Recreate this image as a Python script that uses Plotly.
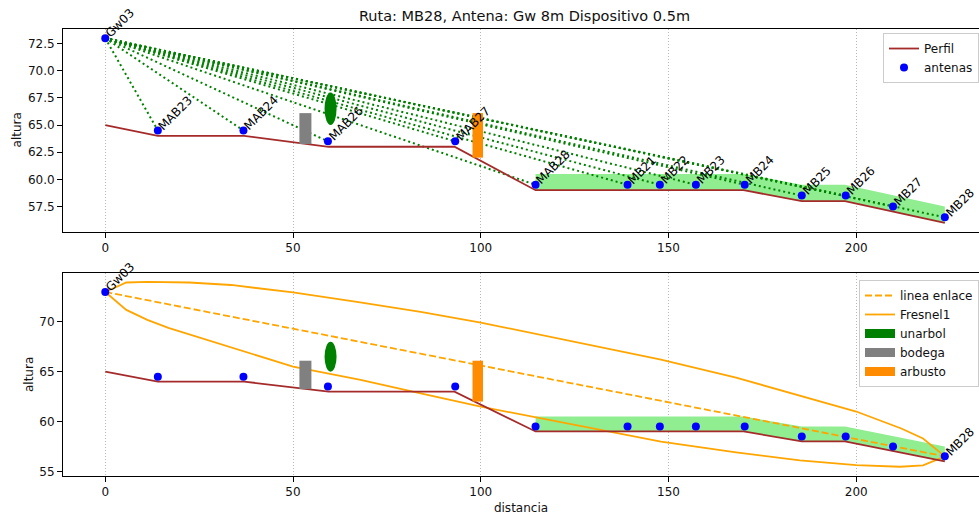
import plotly.graph_objects as go

# ---------------- data ----------------
# terrain profile (distancia, altura)
perfil_x = [0, 14, 37, 59.5, 93, 114.6, 170, 185.5, 197, 223.6]
perfil_y = [65, 64, 64, 63, 63, 59, 59, 58, 58, 56]

# antennas
ant_nombres = ["Gw03", "MAB23", "MAB24", "MAB26", "MAB27", "MAB28", "MB21",
               "MB22", "MB23", "MB24", "MB25", "MB26", "MB27", "MB28"]
ant_x = [0, 14, 36.8, 59.3, 93.2, 114.6, 139.1, 147.7, 157.3, 170.3,
         185.5, 197.2, 209.8, 223.6]
ant_y = [73, 64.5, 64.5, 63.5, 63.5, 59.5, 59.5, 59.5, 59.5, 59.5,
         58.5, 58.5, 57.5, 56.5]

# vegetation strip (green area)
veg_x = [114.6, 170, 185.5, 197, 223.6]
veg_base = [59, 59, 58, 58, 56]
veg_top = [60.5, 60.5, 59.5, 59.5, 57.5]

# obstacles
obs_nombres = ["unarbol", "bodega", "arbusto"]
obs_tipo = ["circle", "rect", "rect"]
obs_x0 = [58.4, 51.7, 97.8]
obs_x1 = [61.6, 54.9, 100.6]
obs_y0 = [65.0, 63.25, 62.0]
obs_y1 = [68.0, 66.1, 66.1]

# first Fresnel zone outline
fres_sup_x = [0, 5.6, 11.2, 16.8, 22.4, 33.5, 50, 67, 84, 100, 120, 148,
              168, 185, 200, 212, 217.8, 223.6]
fres_sup_y = [73, 73.95, 74.02, 74.02, 73.95, 73.7, 72.95, 72.0, 71.0,
              69.93, 68.4, 66.2, 64.4, 62.6, 61.0, 59.3, 58.3, 56.5]
fres_inf_x = [0, 5.6, 11.2, 16.8, 22.4, 33.5, 50, 68, 84, 100, 120, 148,
              168, 185, 200, 211.7, 217.8, 223.6]
fres_inf_y = [73, 71.2, 70.2, 69.4, 68.7, 67.4, 65.5, 64.17, 62.83, 61.49,
              60.0, 57.97, 56.9, 56.1, 55.63, 55.46, 55.6, 56.5]

x_ticks = [0, 50, 100, 150, 200]
y1_ticks = [57.5, 60.0, 62.5, 65.0, 67.5, 70.0, 72.5]
y2_ticks = [55, 60, 65, 70]

# ---------------- styles ----------------
FONT = "DejaVu Sans"
FS = 12
BROWN = "#a52a2a"
BLUE = "#0000ff"
GREEN = "#008000"
LGREEN = "#90ee90"
ORANGE = "#ffa500"
obs_colores = ["#008000", "#808080", "#ff8c00"]

fig = go.Figure()

for xa, ya, leg_main in (("x", "y", True), ("x2", "y2", False)):
    # vegetation area
    fig.add_trace(go.Scatter(x=veg_x, y=veg_base, mode="lines",
                             line=dict(width=0, color=LGREEN), hoverinfo="skip",
                             showlegend=False, xaxis=xa, yaxis=ya))
    fig.add_trace(go.Scatter(x=veg_x, y=veg_top, mode="lines", fill="tonexty",
                             fillcolor=LGREEN, line=dict(width=0, color=LGREEN),
                             hoverinfo="skip", showlegend=False, xaxis=xa, yaxis=ya))
    if leg_main:
        # dotted sight lines from gateway to every device
        lx, ly = [], []
        for xi, yi in zip(ant_x[1:], ant_y[1:]):
            lx += [ant_x[0], xi, None]
            ly += [ant_y[0], yi, None]
        fig.add_trace(go.Scatter(x=lx, y=ly, mode="lines",
                                 line=dict(color=GREEN, width=2, dash="2px,3px"),
                                 showlegend=False, xaxis=xa, yaxis=ya))
    else:
        fig.add_trace(go.Scatter(x=[ant_x[0], ant_x[-1]], y=[ant_y[0], ant_y[-1]],
                                 mode="lines", name="linea enlace",
                                 line=dict(color=ORANGE, width=1.8, dash="7px,3px"),
                                 legend="legend2", xaxis=xa, yaxis=ya))
        fig.add_trace(go.Scatter(x=fres_sup_x + fres_inf_x[::-1],
                                 y=fres_sup_y + fres_inf_y[::-1],
                                 mode="lines", name="Fresnel1",
                                 line=dict(color=ORANGE, width=1.8),
                                 legend="legend2", xaxis=xa, yaxis=ya))
        for nm, col in zip(obs_nombres, obs_colores):
            fig.add_trace(go.Scatter(x=[None], y=[None], mode="lines", name=nm,
                                     line=dict(color=col, width=9),
                                     legend="legend2", xaxis=xa, yaxis=ya))
    fig.add_trace(go.Scatter(x=perfil_x, y=perfil_y, mode="lines", name="Perfil",
                             line=dict(color=BROWN, width=1.8),
                             showlegend=leg_main, xaxis=xa, yaxis=ya))
    fig.add_trace(go.Scatter(x=ant_x, y=ant_y, mode="markers", name="antenas",
                             marker=dict(color=BLUE, size=8),
                             showlegend=leg_main, xaxis=xa, yaxis=ya))
    for tp, x0, x1, y0, y1, col in zip(obs_tipo, obs_x0, obs_x1, obs_y0, obs_y1, obs_colores):
        fig.add_shape(type=tp, x0=x0, x1=x1, y0=y0, y1=y1, xref=xa, yref=ya,
                      fillcolor=col, line=dict(width=0), layer="above")

# labels
for nm, xi, yi in zip(ant_nombres, ant_x, ant_y):
    fig.add_annotation(x=xi, y=yi, xref="x", yref="y", text=nm, textangle=-45,
                       showarrow=False, xanchor="left", yanchor="bottom",
                       xshift=-5, yshift=-5, font=dict(size=FS, color="black", family=FONT))
for i in (0, len(ant_nombres) - 1):
    fig.add_annotation(x=ant_x[i], y=ant_y[i], xref="x2", yref="y2", text=ant_nombres[i],
                       textangle=-45, showarrow=False, xanchor="left", yanchor="bottom",
                       xshift=-5, yshift=-5, font=dict(size=FS, color="black", family=FONT))

# y-axis labels ("altura"), placed like the reference
PLOT_L, PLOT_W = 63, 916
for xpix, ydom in ((17, 0.7730), (28.5, 0.2270)):
    fig.add_annotation(x=(xpix - PLOT_L) / PLOT_W, y=ydom, xref="paper", yref="paper",
                       text="altura", textangle=-90, showarrow=False,
                       xanchor="center", yanchor="middle",
                       font=dict(size=FS, color="#111111", family=FONT))

ax_common = dict(showline=True, linecolor="black", linewidth=1, ticks="outside",
                 ticklen=5, tickcolor="black", tickfont=dict(size=FS, color="#111111"),
                 zeroline=False, automargin=False)
grid = dict(showgrid=True, gridcolor="#b8b8b8", griddash="1px,2px", gridwidth=1)
xr = [-11.26, 232.7]
fig.update_layout(
    width=979, height=515,
    margin=dict(l=PLOT_L, r=0, t=29, b=39),
    paper_bgcolor="white", plot_bgcolor="white",
    font=dict(family=FONT, size=FS, color="#111111"),
    title=dict(text="Ruta: MB28, Antena: Gw 8m Dispositivo 0.5m", x=0.5038, xref="paper",
               y=1 - 16 / 515, yref="container", xanchor="center", yanchor="middle",
               font=dict(size=14.5)),
    xaxis=dict(domain=[0, 1], anchor="y", range=xr, tickvals=x_ticks, mirror=True,
               **grid, **ax_common),
    yaxis=dict(domain=[0.5459, 1], anchor="x", range=[55.15, 73.85], tickvals=y1_ticks,
               tickformat=".1f", showgrid=False, **ax_common),
    xaxis2=dict(domain=[0, 1], anchor="y2", range=xr, tickvals=x_ticks, mirror=True,
                title=dict(text="distancia", standoff=5, font=dict(size=FS)),
                **grid, **ax_common),
    yaxis2=dict(domain=[0, 0.4541], anchor="x2", range=[54.53, 74.9], tickvals=y2_ticks,
                showgrid=False, **ax_common),
    legend=dict(x=1, xanchor="right", y=0.991, yanchor="top", bgcolor="rgba(255,255,255,0.8)",
                bordercolor="#cccccc", borderwidth=1, font=dict(size=FS), traceorder="normal"),
    legend2=dict(x=1, xanchor="right", y=0.4385, yanchor="top", bgcolor="rgba(255,255,255,0.8)",
                 bordercolor="#cccccc", borderwidth=1, font=dict(size=FS), traceorder="normal"),
)

fig.write_html("out.html", config={"displayModeBar": False},
               post_script="document.body.style.margin='0';")
